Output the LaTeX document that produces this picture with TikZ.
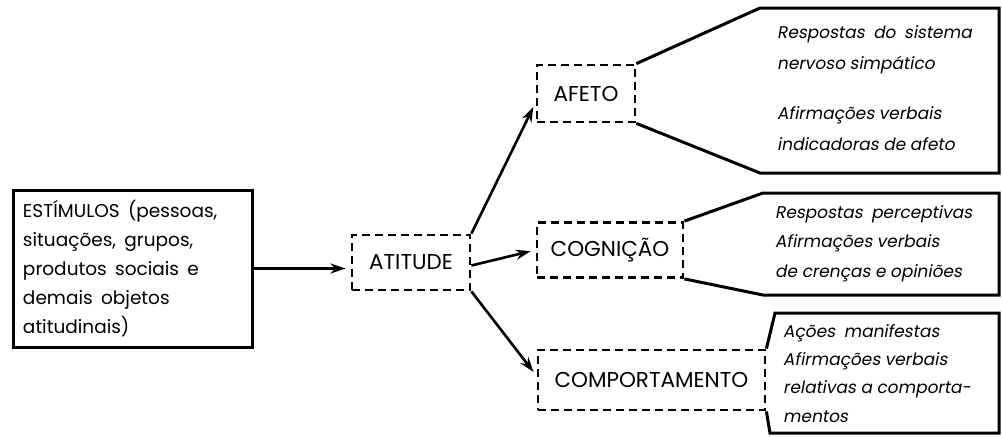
\documentclass[tikz,border=0pt]{standalone}
\usepackage{fontspec}
\setmainfont{Poppins}
\newfontfamily\itfont{Poppins}[FakeSlant=0.18]
\usetikzlibrary{arrows.meta}
\begin{document}
\begin{tikzpicture}[x=1pt,y=-1pt,
  solidbox/.style={draw, line width=3pt, inner sep=0pt},
  dashbox/.style={draw, line width=2.8pt, dash pattern=on 8pt off 5pt, inner sep=0pt, font=\fontsize{21.5}{24}\selectfont},
  arr/.style={line width=2.6pt, shorten >=5pt, -{Stealth[length=15pt,width=10pt]}},
  outline/.style={line width=3pt, line join=miter},
  resp/.style={anchor=base west, inner sep=0pt, align=left, font=\itfont\fontsize{17}{30.5}\selectfont},
]
\useasboundingbox (0,0) rectangle (1002,437);

% stimulus box
\node[solidbox, minimum width=239pt, minimum height=157pt, text width=219pt, align=left,
      font=\fontsize{18.5}{29}\selectfont] (stim) at (132.5,268.5)
  {\spaceskip=0.45em ESTÍMULOS (pessoas,\\ situações, grupos,\\ produtos sociais e\\ demais objetos\\ atitudinais)};

% central and component boxes
\node[dashbox, minimum width=118pt, minimum height=55pt] (att) at (411,262.5) {ATITUDE};
\node[dashbox, minimum width=98pt, minimum height=57pt] (afe) at (586,93.5) {AFETO};
\node[dashbox, minimum width=146pt, minimum height=55pt] (cog) at (610,250) {COGNIÇÃO};
\node[dashbox, minimum width=227pt, minimum height=60pt] (com) at (651.5,380) {COMPORTAMENTO};

% arrows
\draw[arr] (stim.east) -- (stim.east -| att.west);
\draw[arr] (att.north east) -- ([yshift=-9pt]afe.west);
\draw[arr] ([yshift=-3pt]att.east) -- (cog.west);
\draw[arr] (att.south east) -- ([yshift=4pt]com.west);

% response outlines
\coordinate (a1) at (760,8);
\coordinate (a2) at (999,8);
\coordinate (a3) at (999,173);
\coordinate (a4) at (760,173);
\draw[outline] (afe.north east) -- (a1) -- (a2) -- (a3) -- (a4) -- (afe.south east);

\coordinate (c1) at (763,193);
\coordinate (c2) at (999,193);
\coordinate (c3) at (999,295);
\coordinate (c4) at (763,295);
\draw[outline] (cog.north east) -- (c1) -- (c2) -- (c3) -- (c4) -- (cog.south east);

\coordinate (m1) at (775,313);
\coordinate (m2) at (999,313);
\coordinate (m3) at (999,433);
\coordinate (m4) at (770,433);
\draw[outline] (com.north east) -- (m1) -- (m2) -- (m3) -- (m4) -- (com.south east);

% response texts (anchored at the baseline of the last line)
\node[resp] (ta) at (777,150)
  {\spaceskip=0.5em Respostas do sistema\\ nervoso simpático\\[20pt] Afirmações verbais\\ indicadoras de afeto};
\node[resp, font=\itfont\fontsize{17}{29.5}\selectfont] (tc) at (775,277)
  {\spaceskip=0.5em Respostas perceptivas\\ Afirmações verbais\\ de crenças e opiniões};
\node[resp, font=\itfont\fontsize{17}{28.3}\selectfont] (tm) at (783,422)
  {\spaceskip=0.5em Ações manifestas\\ Afirmações verbais\\ relativas a comporta-\\ mentos};
\end{tikzpicture}
\end{document}
